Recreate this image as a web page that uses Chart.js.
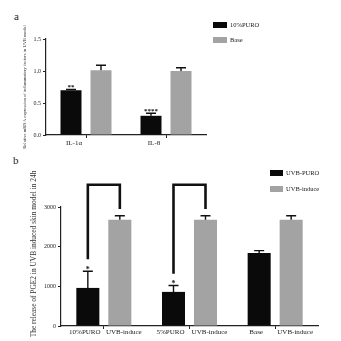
<!DOCTYPE html>
<html><head><meta charset="utf-8">
<script src="https://cdn.jsdelivr.net/npm/chart.js@4.4.1/dist/chart.umd.min.js"></script>
<style>
html,body{margin:0;padding:0;background:#fff;width:341px;height:341px;overflow:hidden;}
.wrap{position:absolute;left:0;width:341px;}
.lab{position:absolute;font-family:"Liberation Serif",serif;font-size:11px;color:#222;}
</style></head>
<body>
<div class="lab" style="left:14px;top:10px;">a</div>
<div class="lab" style="left:13px;top:154px;">b</div>
<div class="wrap" style="top:0;height:160px;"><canvas id="ca"></canvas></div>
<div class="wrap" style="top:160px;height:181px;"><canvas id="cb"></canvas></div>
<script>
// ---------- Panel a data ----------
const catsA = ['IL-1\u03b1', 'IL-8'];
const seriesA1Name = '10%PURO';
const seriesA1 = [0.70, 0.30];
const errA1 = [0.01, 0.04];
const sigA1 = ['**', '****'];
const seriesA2Name = 'Base';
const seriesA2 = [1.01, 1.00];
const errA2 = [0.08, 0.05];
const ticksA = [0.0, 0.5, 1.0, 1.5];
const yTitleA = 'Relative mRNA expression of inflammatory factors in UVB model';

// ---------- Panel b data ----------
const catsB = ['G1', 'G2', 'G3'];
const labelsB1 = ['10%PURO', '5%PURO', 'Base'];
const labelsB2 = ['UVB-induce', 'UVB-induce', 'UVB-induce'];
const seriesB1Name = 'UVB-PURO';
const seriesB1 = [960, 860, 1840];
const errB1 = [420, 160, 60];
const sigB1 = ['*', '*', ''];
const seriesB2Name = 'UVB-induce';
const seriesB2 = [2680, 2680, 2680];
const errB2 = [100, 100, 100];
const ticksB = [0, 1000, 2000, 3000];
const bracketCats = [0, 1];
const bracketTop = 3560;
const bracketLeftBottom = [1680, 1320];
const bracketRightBottom = [2950, 2950];
const yTitleB = 'The release of PGE2 in UVB induced skin model in 24h';

const BLACK = '#0a0a0a', GREY = '#a3a3a3', TXT = '#222';
const SERIF = '"Liberation Serif", "DejaVu Serif", serif';

function errPlugin(errs, sigs, sigSize, sigGap) {
  return {
    id: 'errbars',
    afterDatasetsDraw(chart) {
      const ctx = chart.ctx, y = chart.scales.y;
      ctx.save();
      chart.data.datasets.forEach((ds, i) => {
        const meta = chart.getDatasetMeta(i);
        meta.data.forEach((el, j) => {
          const v = ds.data[j], e = errs[i][j];
          const yt = y.getPixelForValue(v + e);
          ctx.strokeStyle = '#111'; ctx.lineWidth = 1.4;
          ctx.beginPath();
          ctx.moveTo(el.x, el.y); ctx.lineTo(el.x, yt);
          ctx.moveTo(el.x - 5, yt); ctx.lineTo(el.x + 5, yt);
          ctx.stroke();
          const s = sigs[i] && sigs[i][j];
          if (s) {
            ctx.fillStyle = '#111'; ctx.font = 'bold ' + sigSize + 'px ' + SERIF;
            ctx.textAlign = 'center'; ctx.textBaseline = 'alphabetic';
            ctx.fillText(s, el.x, yt - sigGap + sigSize * 0.55);
          }
        });
      });
      ctx.restore();
    }
  };
}
function legendPlugin(x, ys, size, fontSize) {
  return {
    id: 'mylegend',
    afterDraw(chart) {
      const ctx = chart.ctx;
      ctx.save();
      chart.data.datasets.forEach((ds, i) => {
        ctx.fillStyle = ds.backgroundColor;
        ctx.fillRect(x, ys[i], size[0], size[1]);
        ctx.fillStyle = TXT; ctx.font = fontSize + 'px ' + SERIF;
        ctx.textAlign = 'left'; ctx.textBaseline = 'middle';
        ctx.fillText(ds.label, x + size[0] + 3, ys[i] + size[1] / 2 + 0.5);
      });
      ctx.restore();
    }
  };
}

// ---------- Chart a ----------
new Chart(document.getElementById('ca'), {
  type: 'bar',
  data: {
    labels: catsA,
    datasets: [
      {label: seriesA1Name, data: seriesA1, backgroundColor: BLACK, categoryPercentage: 0.75, barPercentage: 0.7},
      {label: seriesA2Name, data: seriesA2, backgroundColor: GREY, categoryPercentage: 0.75, barPercentage: 0.7}
    ]
  },
  options: {
    responsive: true, maintainAspectRatio: false, animation: false,
    layout: {padding: {left: 0, top: 39, right: 135, bottom: 5}},
    plugins: {legend: {display: false}, tooltip: {enabled: false}},
    scales: {
      x: {
        grid: {display: true, drawOnChartArea: false, offset: false, tickLength: 3, color: '#222'},
        border: {color: '#222', width: 1.2},
        ticks: {color: TXT, font: {family: SERIF, size: 7}, padding: 1, labelOffset: -12},
        afterFit(s) { s.height = 20; }
      },
      y: {
        min: 0, max: 1.5,
        afterBuildTicks(s) { s.ticks = ticksA.map(v => ({value: v})); },
        grid: {display: true, drawOnChartArea: false, tickLength: 3, color: '#222'},
        border: {color: '#222', width: 1.2},
        ticks: {color: TXT, font: {family: SERIF, size: 6}, padding: 2, callback: v => Number(v).toFixed(1)},
        title: {display: true, text: yTitleA, color: '#333', font: {family: SERIF, size: 4.6}, padding: {top: 22, bottom: 0}},
        afterFit(s) { s.width = 46; }
      }
    }
  },
  plugins: [errPlugin([errA1, errA2], [sigA1, []], 7, 4), legendPlugin(213, [22, 37], [14, 6], 6.5)]
});

// ---------- Chart b ----------
new Chart(document.getElementById('cb'), {
  type: 'bar',
  data: {
    labels: catsB,
    datasets: [
      {label: seriesB1Name, data: seriesB1, backgroundColor: BLACK, categoryPercentage: 0.747, barPercentage: 0.72},
      {label: seriesB2Name, data: seriesB2, backgroundColor: GREY, categoryPercentage: 0.747, barPercentage: 0.72}
    ]
  },
  options: {
    responsive: true, maintainAspectRatio: false, animation: false,
    layout: {padding: {left: 0, top: 47, right: 23, bottom: 3}},
    plugins: {legend: {display: false}, tooltip: {enabled: false}},
    scales: {
      x: {
        grid: {display: true, drawOnChartArea: false, offset: false, tickLength: 3, color: '#222'},
        border: {color: '#222', width: 1.2},
        ticks: {display: false},
        afterFit(s) { s.height = 12; }
      },
      y: {
        min: 0, max: 3000,
        afterBuildTicks(s) { s.ticks = ticksB.map(v => ({value: v})); },
        grid: {display: true, drawOnChartArea: false, tickLength: 3, color: '#222'},
        border: {color: '#222', width: 1.2},
        ticks: {color: TXT, font: {family: SERIF, size: 6}, padding: 2, callback: v => String(v)},
        title: {display: false, text: yTitleB},
        afterFit(s) { s.width = 61; }
      }
    }
  },
  plugins: [
    errPlugin([errB1, errB2], [sigB1, []], 8, 4),
    legendPlugin(270, [10, 26], [13, 6], 6.5),
    {
      id: 'brackets',
      afterDatasetsDraw(chart) {
        const ctx = chart.ctx, y = chart.scales.y;
        const m0 = chart.getDatasetMeta(0), m1 = chart.getDatasetMeta(1);
        ctx.save();
        ctx.strokeStyle = '#111'; ctx.lineWidth = 2.6; ctx.lineJoin = 'miter';
        bracketCats.forEach((c, k) => {
          const xl = m0.data[c].x, xr = m1.data[c].x;
          ctx.beginPath();
          ctx.moveTo(xl, y.getPixelForValue(bracketLeftBottom[k]));
          ctx.lineTo(xl, y.getPixelForValue(bracketTop));
          ctx.lineTo(xr, y.getPixelForValue(bracketTop));
          ctx.lineTo(xr, y.getPixelForValue(bracketRightBottom[k]));
          ctx.stroke();
        });
        // per-bar category labels
        ctx.fillStyle = TXT; ctx.font = '7px ' + SERIF;
        ctx.textAlign = 'center'; ctx.textBaseline = 'top';
        const yb = chart.chartArea.bottom + 3;
        m0.data.forEach((el, j) => ctx.fillText(labelsB1[j], el.x - 3, yb));
        m1.data.forEach((el, j) => ctx.fillText(labelsB2[j], el.x + 4, yb));
        // y-axis title (rotated)
        ctx.translate(34, 94);
        ctx.rotate(-Math.PI / 2);
        ctx.fillStyle = '#333'; ctx.font = '7.4px ' + SERIF;
        ctx.textAlign = 'center'; ctx.textBaseline = 'middle';
        ctx.fillText(chart.options.scales.y.title.text, 0, 0);
        ctx.restore();
      }
    }
  ]
});
</script>
</body></html>
